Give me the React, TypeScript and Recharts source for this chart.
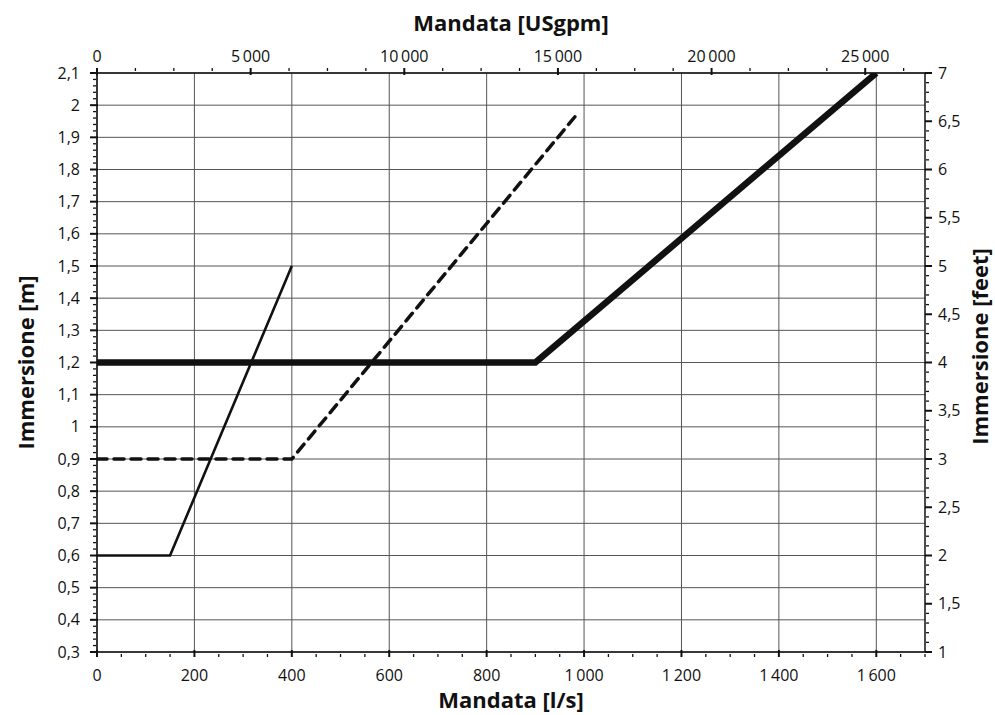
import { LineChart, Line, XAxis, YAxis, CartesianGrid, Label } from 'recharts';

// series: flow [l/s] vs immersion [m]
const flowThin = [0, 150, 400];
const levelThin = [0.6, 0.6, 1.5];
const flowDashed = [0, 400, 990];
const levelDashed = [0.9, 0.9, 1.98];
const flowThick = [0, 900, 1600];
const levelThick = [1.2, 1.2, 2.1];

// major ticks
const flowTicks = [0, 200, 400, 600, 800, 1000, 1200, 1400, 1600];
const gpmTicks = [0, 5000, 10000, 15000, 20000, 25000];
const meterTicks = [0.3, 0.4, 0.5, 0.6, 0.7, 0.8, 0.9, 1, 1.1, 1.2, 1.3, 1.4, 1.5, 1.6, 1.7, 1.8, 1.9, 2, 2.1];
const feetTicks = [1, 1.5, 2, 2.5, 3, 3.5, 4, 4.5, 5, 5.5, 6, 6.5, 7];

const LPS_TO_GPM = 15.8503;
const FLOW_MAX = 1700;
const GPM_MAX = FLOW_MAX * LPS_TO_GPM;

const FONT = '"Open Sans", sans-serif';
const INK = '#111';

const toRows = (xs: number[], ys: number[]) => xs.map((x, i) => ({ flow: x, level: ys[i] }));

// invisible helper so the secondary (top / right) axes get a scale
const secondaryRows = [
  { gpm: 0, ft: 1 },
  { gpm: GPM_MAX, ft: 7 },
];

const steps = (min: number, max: number, step: number) => {
  const out: number[] = [];
  const n = Math.round((max - min) / step);
  for (let i = 0; i <= n; i++) out.push(+(min + i * step).toFixed(4));
  return out;
};

const isMajor = (v: number, majors: number[]) => majors.some((m) => Math.abs(m - v) < 1e-6);

const fmt = (v: number) => {
  const [int, dec] = String(v).split('.');
  const grouped = int.length > 3 ? int.replace(/\B(?=(\d{3})+(?!\d))/g, '\u2009') : int;
  return dec ? `${grouped},${dec}` : grouped;
};

type Side = 'bottom' | 'top' | 'left' | 'right';

function makeTick(side: Side, majors: number[]) {
  return (props: any) => {
    const { x, y, payload } = props;
    const v = payload.value as number;
    const major = isMajor(v, majors);
    const w = major ? 2 : 1.3;
    let line;
    let text = null;
    if (side === 'bottom') {
      line = major ? [x, y - 2, x, y + 5] : [x, y + 2, x, y + 5];
      if (major) text = <text x={x} y={y + 29} textAnchor="middle">{fmt(v)}</text>;
    } else if (side === 'top') {
      line = major ? [x, y + 2, x, y - 5] : [x, y - 2, x, y - 5];
      if (major) text = <text x={x} y={y - 11} textAnchor="middle">{fmt(v)}</text>;
    } else if (side === 'left') {
      line = major ? [x - 7, y, x + 1, y] : [x - 4, y, x - 1, y];
      if (major) text = <text x={x - 17} y={y + 5.5} textAnchor="end">{fmt(v)}</text>;
    } else {
      line = major ? [x, y, x + 7, y] : [x + 1, y, x + 4, y];
      if (major) text = <text x={x + 13} y={y + 5.5} textAnchor="start">{fmt(v)}</text>;
    }
    return (
      <g fontFamily={FONT} fontSize={16} fill={INK}>
        <line x1={line[0]} y1={line[1]} x2={line[2]} y2={line[3]} stroke={INK} strokeWidth={w} />
        {text}
      </g>
    );
  };
}

const titleStyle = { fontFamily: FONT, fontSize: 22, fontWeight: 700, fill: INK };

export default function App() {
  return (
    <div style={{ position: 'absolute', left: 0, top: 0, background: '#fff' }}>
      <LineChart width={995} height={715} margin={{ top: 0, right: 0, bottom: 0, left: 0 }}>
        <CartesianGrid
          xAxisId="ls"
          yAxisId="m"
          stroke="#555"
          strokeWidth={1}
          horizontalValues={meterTicks}
          verticalValues={flowTicks}
        />
        <XAxis
          xAxisId="ls"
          type="number"
          dataKey="flow"
          domain={[0, FLOW_MAX]}
          allowDataOverflow
          ticks={steps(0, FLOW_MAX, 50)}
          interval={0}
          height={63}
          tickSize={0}
          tickMargin={0}
          tickLine={false}
          axisLine={{ stroke: INK, strokeWidth: 1.5 }}
          tick={makeTick('bottom', flowTicks)}
        >
          <Label value="Mandata [l/s]" position="insideBottom" offset={7} style={titleStyle} />
        </XAxis>
        <XAxis
          xAxisId="gpm"
          orientation="top"
          type="number"
          dataKey="gpm"
          domain={[0, GPM_MAX]}
          allowDataOverflow
          ticks={steps(0, 26250, 1250)}
          interval={0}
          height={73}
          tickSize={0}
          tickMargin={0}
          tickLine={false}
          axisLine={{ stroke: INK, strokeWidth: 1.5 }}
          tick={makeTick('top', gpmTicks)}
        >
          <Label value="Mandata [USgpm]" position="insideTop" offset={15} style={titleStyle} />
        </XAxis>
        <YAxis
          yAxisId="m"
          type="number"
          domain={[0.3, 2.1]}
          allowDataOverflow
          ticks={steps(0.3, 2.1, 0.02)}
          interval={0}
          width={97}
          tickSize={0}
          tickMargin={0}
          tickLine={false}
          axisLine={{ stroke: INK, strokeWidth: 1.5 }}
          tick={makeTick('left', meterTicks)}
        >
          <Label
            value="Immersione [m]"
            position="insideLeft"
            angle={-90}
            offset={26}
            style={{ ...titleStyle, textAnchor: 'middle' }}
          />
        </YAxis>
        <YAxis
          yAxisId="ft"
          orientation="right"
          type="number"
          domain={[1, 7]}
          allowDataOverflow
          ticks={steps(1, 7, 0.1)}
          interval={0}
          width={70}
          tickSize={0}
          tickMargin={0}
          tickLine={false}
          axisLine={{ stroke: INK, strokeWidth: 1.5 }}
          tick={makeTick('right', feetTicks)}
        >
          <Label
            value="Immersione [feet]"
            position="insideRight"
            angle={-90}
            offset={15}
            dy={-16}
            style={{ ...titleStyle, textAnchor: 'middle' }}
          />
        </YAxis>
        <Line
          xAxisId="gpm"
          yAxisId="ft"
          data={secondaryRows}
          dataKey="ft"
          stroke="none"
          dot={false}
          activeDot={false}
          isAnimationActive={false}
        />
        <Line
          xAxisId="ls"
          yAxisId="m"
          data={toRows(flowThin, levelThin)}
          dataKey="level"
          type="linear"
          stroke={INK}
          strokeWidth={2.6}
          dot={false}
          activeDot={false}
          isAnimationActive={false}
        />
        <Line
          xAxisId="ls"
          yAxisId="m"
          data={toRows(flowDashed, levelDashed)}
          dataKey="level"
          type="linear"
          stroke={INK}
          strokeWidth={3.5}
          strokeDasharray="10 7"
          strokeLinecap="round"
          dot={false}
          activeDot={false}
          isAnimationActive={false}
        />
        <Line
          xAxisId="ls"
          yAxisId="m"
          data={toRows(flowThick, levelThick)}
          dataKey="level"
          type="linear"
          stroke={INK}
          strokeWidth={6.5}
          dot={false}
          activeDot={false}
          isAnimationActive={false}
        />
      </LineChart>
    </div>
  );
}
